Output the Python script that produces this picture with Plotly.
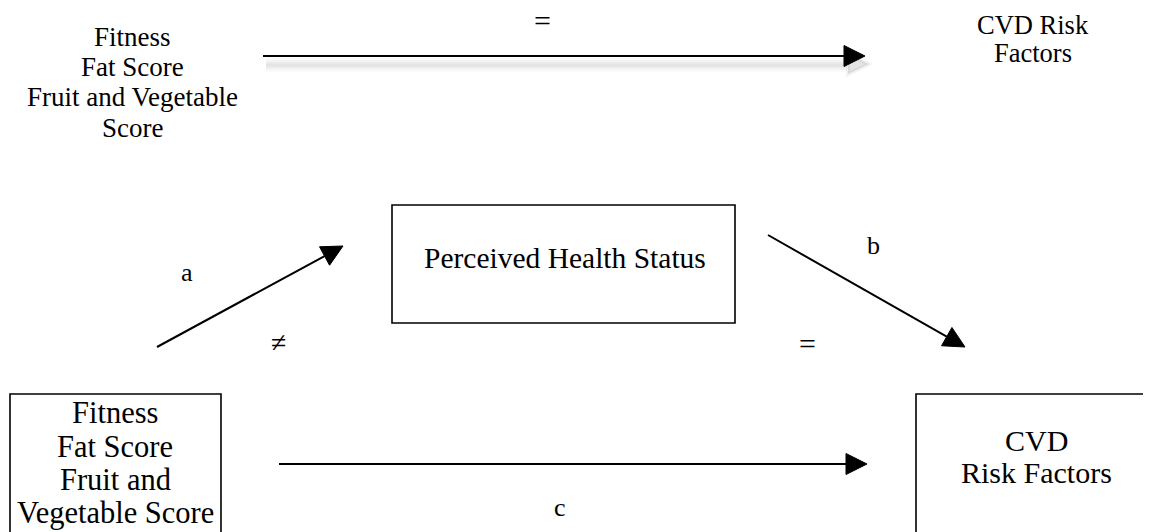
import math
import plotly.graph_objects as go

W, H = 1151, 532
PAGE_MARGIN = 8  # default body margin of the written page
FONT = "Liberation Serif, Times New Roman, serif"

# ---- diagram content ----
top_left_lines = ["Fitness", "Fat Score", "Fruit and Vegetable", "Score"]
top_left_y = [37, 67, 97, 128]
top_left_x = 132

top_right_lines = ["CVD Risk", "Factors"]
top_right_y = [25, 53]
top_right_x = 1033

mid_label = "Perceived Health Status"
mid_box = (392, 205, 735, 323)
mid_label_pos = (565, 258)

left_box = (10, 394, 221, 560)
left_lines = ["Fitness", "Fat Score", "Fruit and", "Vegetable Score"]
left_y = [413, 447, 480, 513]
left_x = 115

right_box = (916, 394, 1170, 560)
right_lines = ["CVD", "Risk Factors"]
right_y = [440, 472]
right_x = 1036

# arrows: (x_start, y_start, x_tip, y_tip)
arrow_names = ["top", "a", "b", "c"]
arrow_coords = [(263, 56, 865, 56), (157, 347, 343, 246), (768, 235, 965, 347), (279, 464, 867, 464)]

symbol_text = ["=", "a", "≠", "b", "=", "c"]
symbol_xy = [(542, 20), (187, 272), (278, 342), (873, 245), (807, 343), (560, 507)]
symbol_size = [30, 26, 28, 26, 30, 26]

fig = go.Figure()
fig.add_trace(go.Scatter(x=[PAGE_MARGIN, W], y=[PAGE_MARGIN, H], mode="markers", marker=dict(opacity=0),
                         hoverinfo="skip", showlegend=False))

shapes = []
annotations = []

def add_text(txt, x, y, size):
    annotations.append(dict(x=x, y=y, xref="x", yref="y", text=txt, showarrow=False,
                            font=dict(family=FONT, size=size, color="#000"),
                            xanchor="center", yanchor="middle"))

for t, y in zip(top_left_lines, top_left_y):
    add_text(t, top_left_x, y, 27)
for t, y in zip(top_right_lines, top_right_y):
    add_text(t, top_right_x, y, 26.5)
for t, y in zip(left_lines, left_y):
    add_text(t, left_x, y, 30.5)
for t, y in zip(right_lines, right_y):
    add_text(t, right_x, y, 30)
add_text(mid_label, mid_label_pos[0], mid_label_pos[1], 29.5)
for t, (x, y), s in zip(symbol_text, symbol_xy, symbol_size):
    add_text(t, x, y, s)

# boxes drawn as outlines (the ones running off the page are left open there)
box_style = dict(color="#000", width=1.6)
for (x0, y0, x1, y1) in [mid_box, left_box, right_box]:
    right_open = x1 > W
    if right_open:
        p = f"M {x1},{y0} L {x0},{y0} L {x0},{y1}"
    else:
        p = f"M {x0},{y1} L {x0},{y0} L {x1},{y0} L {x1},{y1} Z" if y1 <= H else \
            f"M {x0},{y1} L {x0},{y0} L {x1},{y0} L {x1},{y1}"
    shapes.append(dict(type="path", xref="x", yref="y", path=p, line=box_style,
                       fillcolor="rgba(0,0,0,0)"))

def head_path(xs, ys, xt, yt, L=21, hw=10.5):
    d = math.hypot(xt - xs, yt - ys)
    ux, uy = (xt - xs) / d, (yt - ys) / d
    px, py = -uy, ux
    bx, by = xt - ux * L, yt - uy * L
    return (f"M {xt},{yt} L {bx + px * hw},{by + py * hw} L {bx - px * hw},{by - py * hw} Z", bx, by)

for name, (xs, ys, xt, yt) in zip(arrow_names, arrow_coords):
    path, bx, by = head_path(xs, ys, xt, yt)
    if name == "top":
        # soft drop shadow
        for off, w, a in [(9, 14, 0.02), (9, 10, 0.025), (9, 6, 0.03), (9, 3, 0.03)]:
            shapes.append(dict(type="line", xref="x", yref="y", x0=xs + 3, y0=ys + off, x1=bx + 3, y1=by + off,
                               line=dict(color=f"rgba(0,0,0,{a})", width=w)))
        spath, _, _ = head_path(xs + 4, ys + 8, xt + 4, yt + 8, L=21, hw=10)
        shapes.append(dict(type="path", xref="x", yref="y", path=spath,
                           fillcolor="rgba(0,0,0,0.10)", line=dict(color="rgba(0,0,0,0.05)", width=4)))
    shapes.append(dict(type="line", xref="x", yref="y", x0=xs, y0=ys, x1=bx, y1=by,
                       line=dict(color="#000", width=2)))
    shapes.append(dict(type="path", xref="x", yref="y", path=path,
                       fillcolor="#000", line=dict(color="#000", width=1)))

fig.update_layout(
    width=W - PAGE_MARGIN, height=H - PAGE_MARGIN, margin=dict(l=0, r=0, t=0, b=0),
    paper_bgcolor="white", plot_bgcolor="white",
    xaxis=dict(range=[PAGE_MARGIN, W], visible=False, fixedrange=True),
    yaxis=dict(range=[H, PAGE_MARGIN], visible=False, fixedrange=True),
    shapes=shapes, annotations=annotations, showlegend=False,
)
fig.write_html("out.html")
